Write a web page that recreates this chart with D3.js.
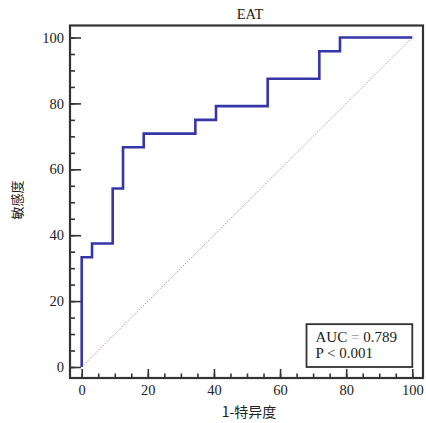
<!DOCTYPE html>
<html>
<head>
<meta charset="utf-8">
<script src="https://cdn.jsdelivr.net/npm/d3@7"></script>
<style>
  body { margin: 0; background: #fff; }
  svg text { font-family: "Liberation Serif", "Times New Roman", serif; fill: #222; }
  svg text.cjk { font-family: "Noto Sans CJK SC", sans-serif; }
</style>
</head>
<body>
<div class="bod"></div>
<script>
// ROC corner points (1-specificity %, sensitivity %), drawn as steps
var fpr = [0, 3.125, 9.375, 12.5, 18.75, 34.375, 40.625, 56.25, 71.875, 78.125, 100]
var tpr = [0, 33.33, 37.5, 54.17, 66.67, 70.83, 75, 79.17, 87.5, 95.83, 100]
var refX = [0, 100]
var refY = [0, 100]
var majorTicks = [0, 20, 40, 60, 80, 100]
var title = 'EAT'
var xTitle = '1-特异度'
var yTitle = '敏感度'
var aucText = 'AUC = 0.789'
var pText = 'P < 0.001'

var size = {width: 426, height: 423,
  frame: {x0: 70, x1: 423, y0: 25.5, y1: 378}}

const svg = d3.select('.bod')
  .append('svg')
  .attr('width', size.width)
  .attr('height', size.height)

let x = d3.scaleLinear().domain([0, 100]).range([81.7, 412.3])
let y = d3.scaleLinear().domain([0, 100]).range([367, 37.5])

//minor ticks
svg.append('g')
  .attr('transform', `translate(0,${size.frame.y1})`)
  .call(d3.axisBottom(x).tickValues(d3.range(0, 101, 5)).tickSize(-4.5).tickFormat(''))
  .call(g => g.select('.domain').remove())
svg.append('g')
  .attr('transform', `translate(${size.frame.x0},0)`)
  .call(d3.axisLeft(y).tickValues(d3.range(0, 101, 5)).tickSize(-5).tickFormat(''))
  .call(g => g.select('.domain').remove())

//major ticks + labels
let xAxis = svg.append('g')
  .attr('transform', `translate(0,${size.frame.y1})`)
  .call(d3.axisBottom(x).tickValues(majorTicks).tickSizeInner(-9).tickSizeOuter(0).tickPadding(7))
xAxis.select('.domain').remove()
let yAxis = svg.append('g')
  .attr('transform', `translate(${size.frame.x0},0)`)
  .call(d3.axisLeft(y).tickValues(majorTicks).tickSizeInner(-11).tickSizeOuter(0).tickPadding(6))
yAxis.select('.domain').remove()
svg.selectAll('g').attr('font-family', null).attr('font-size', null)
svg.selectAll('.tick line').attr('stroke', '#333').attr('stroke-width', 1.6)
svg.selectAll('.tick text')
  .attr('font-family', 'Liberation Serif')
  .attr('font-size', 14.5)
  .attr('fill', '#222')

//frame
svg.append('rect')
  .attr('x', size.frame.x0)
  .attr('y', size.frame.y0)
  .attr('width', size.frame.x1 - size.frame.x0)
  .attr('height', size.frame.y1 - size.frame.y0)
  .attr('fill', 'none')
  .attr('stroke', '#333')
  .attr('stroke-width', 2.2)

//reference diagonal
svg.append('line')
  .attr('x1', x(refX[0])).attr('y1', y(refY[0]))
  .attr('x2', x(refX[1])).attr('y2', y(refY[1]))
  .attr('stroke', '#c08a9a')
  .attr('stroke-width', 0.9)
  .attr('stroke-dasharray', '1.5,1.2')

//ROC curve
let pts = fpr.map((d, i) => [d, tpr[i]])
svg.append('path')
  .datum(pts)
  .attr('fill', 'none')
  .attr('stroke', '#3636a8')
  .attr('stroke-width', 2.6)
  .attr('d', d3.line().x(d => x(d[0])).y(d => y(d[1])).curve(d3.curveStepBefore))

//AUC box
let bx0 = x(68), bx1 = x(100), by0 = y(13), by1 = y(0)
svg.append('rect')
  .attr('x', bx0).attr('y', by0)
  .attr('width', bx1 - bx0).attr('height', by1 - by0)
  .attr('fill', '#fff')
  .attr('stroke', '#333')
  .attr('stroke-width', 1.8)
let auc = svg.append('text')
  .attr('x', bx0 + 9).attr('y', 341.5)
  .attr('font-family', 'Liberation Serif')
  .attr('font-size', 15)
auc.append('tspan').text(aucText.split(' = ')[0])
auc.append('tspan').attr('fill', '#9a9a9a').text(' = ')
auc.append('tspan').text(aucText.split(' = ')[1])
svg.append('text')
  .attr('x', bx0 + 9).attr('y', 357.5)
  .attr('font-family', 'Liberation Serif')
  .attr('font-size', 15)
  .text(pText)

//titles
svg.append('text')
  .attr('x', 250).attr('y', 18.5)
  .attr('text-anchor', 'middle')
  .attr('font-family', 'Liberation Serif')
  .attr('font-size', 14.5)
  .text(title)
svg.append('text')
  .attr('class', 'cjk')
  .attr('x', 249).attr('y', 417)
  .attr('text-anchor', 'middle')
  .attr('font-size', 14)
  .text(xTitle)
svg.append('text')
  .attr('class', 'cjk')
  .attr('transform', 'translate(22,200) rotate(-90)')
  .attr('text-anchor', 'middle')
  .attr('font-size', 13)
  .text(yTitle)
</script>
</body>
</html>
